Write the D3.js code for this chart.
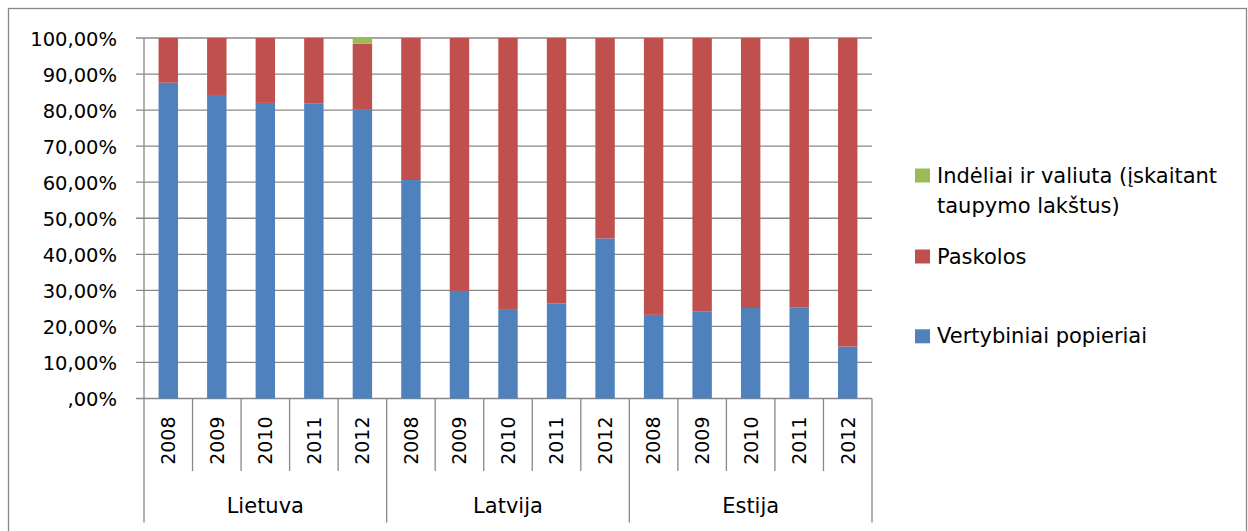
<!DOCTYPE html>
<html>
<head>
<meta charset="utf-8">
<script src="https://cdn.jsdelivr.net/npm/d3@7"></script>
<style>
  html, body { margin: 0; padding: 0; background: #fff; }
  svg { display: block; }
  text { font-family: "DejaVu Sans", sans-serif; fill: #000; }
</style>
</head>
<body>
<svg id="chart" width="1248" height="531"></svg>
<script>
// ---- data ----
const groups = ["Lietuva", "Latvija", "Estija"];
const years = ["2008", "2009", "2010", "2011", "2012"];
const vertybiniai = [87.6, 84.2, 82.0, 81.9, 80.1, 60.6, 29.9, 24.8, 26.4, 44.4, 23.2, 24.2, 25.1, 25.3, 14.4];
const paskolos    = [12.4, 15.8, 18.0, 18.1, 18.3, 39.4, 70.1, 75.2, 73.6, 55.6, 76.8, 75.8, 74.9, 74.7, 85.6];
const indeliai    = [0, 0, 0, 0, 1.6, 0, 0, 0, 0, 0, 0, 0, 0, 0, 0];
const seriesNames = ["Vertybiniai popieriai", "Paskolos", "Indėliai ir valiuta (įskaitant taupymo lakštus)"];
const seriesColors = ["#4F81BD", "#C0504D", "#9BBB59"];
const yTicks = [0, 10, 20, 30, 40, 50, 60, 70, 80, 90, 100];
const yTickLabels = [",00%", "10,00%", "20,00%", "30,00%", "40,00%", "50,00%", "60,00%", "70,00%", "80,00%", "90,00%", "100,00%"];

// ---- build table ----
const rows = [];
groups.forEach((g, gi) => years.forEach((y, yi) => {
  const i = gi * years.length + yi;
  rows.push({ key: g + "-" + y, group: g, year: y, v: vertybiniai[i], p: paskolos[i], d: indeliai[i] });
}));

const svg = d3.select("#chart");
const gridColor = "#888888";

// outer border
svg.append("rect").attr("x", 8.5).attr("y", 8.5).attr("width", 1238).attr("height", 540)
  .attr("fill", "none").attr("stroke", gridColor).attr("stroke-width", 1.3);

const x0 = 144, x1 = 872, yTop = 38, yBot = 398.5;
const x = d3.scaleBand().domain(rows.map(r => r.key)).range([x0, x1]).padding(0);
const y = d3.scaleLinear().domain([0, 100]).range([yBot, yTop]);

// gridlines
svg.append("g").selectAll("line").data(yTicks).join("line")
  .attr("x1", 136).attr("x2", x1)
  .attr("y1", d => y(d)).attr("y2", d => y(d))
  .attr("stroke", gridColor).attr("stroke-width", 1.3);

// y axis line
svg.append("line").attr("x1", x0).attr("x2", x0).attr("y1", yTop).attr("y2", 522.5)
  .attr("stroke", gridColor).attr("stroke-width", 1.3);

// y labels
svg.append("g").selectAll("text").data(yTicks).join("text")
  .attr("x", 117).attr("y", d => y(d) + 0.8).attr("dy", "0.36em")
  .attr("text-anchor", "end").style("font-size", "19.5px")
  .text((d, i) => yTickLabels[i]);

// stacked bars
const stack = d3.stack().keys(["v", "p", "d"]);
const stacked = stack(rows);
const barW = x.bandwidth() * 0.4;
svg.append("g").selectAll("g").data(stacked).join("g")
  .attr("fill", (d, i) => seriesColors[i])
  .selectAll("rect").data(d => d).join("rect")
  .attr("x", d => x(d.data.key) + (x.bandwidth() - barW) / 2)
  .attr("width", barW)
  .attr("y", d => y(d[1]))
  .attr("height", d => Math.max(0, y(d[0]) - y(d[1])));

// category ticks
const bounds = rows.map((r, i) => i).slice(1);
svg.append("g").selectAll("line").data(bounds).join("line")
  .attr("x1", i => x(rows[i].key)).attr("x2", i => x(rows[i].key))
  .attr("y1", yBot).attr("y2", i => (i % years.length === 0) ? 522.5 : 471)
  .attr("stroke", gridColor).attr("stroke-width", 1.3);
svg.append("line").attr("x1", x1).attr("x2", x1).attr("y1", yBot).attr("y2", 522.5)
  .attr("stroke", gridColor).attr("stroke-width", 1.3);

// year labels
svg.append("g").selectAll("text").data(rows).join("text")
  .attr("transform", d => `translate(${x(d.key) + x.bandwidth() / 2},416.5) rotate(-90)`)
  .attr("text-anchor", "end").attr("dy", "0.36em").style("font-size", "19px")
  .text(d => d.year);

// group labels
svg.append("g").selectAll("text").data(groups).join("text")
  .attr("x", (g, gi) => {
    const a = x(rows[gi * years.length].key);
    const b = x(rows[gi * years.length + years.length - 1].key) + x.bandwidth();
    return (a + b) / 2;
  })
  .attr("y", 513).attr("text-anchor", "middle").style("font-size", "21px")
  .text(d => d);

// legend
const legendItems = [
  { color: seriesColors[2], lines: ["Indėliai ir valiuta (įskaitant", "taupymo lakštus)"], base: 182.5 },
  { color: seriesColors[1], lines: ["Paskolos"], base: 263.5 },
  { color: seriesColors[0], lines: ["Vertybiniai popieriai"], base: 343.3 }
];
const lg = svg.append("g");
legendItems.forEach(it => {
  lg.append("rect").attr("x", 915).attr("y", it.base - 14).attr("width", 15).attr("height", 14)
    .attr("fill", it.color);
  it.lines.forEach((ln, li) => {
    lg.append("text").attr("x", 937).attr("y", it.base + li * 30.5)
      .style("font-size", "21px").text(ln);
  });
});
</script>
</body>
</html>
